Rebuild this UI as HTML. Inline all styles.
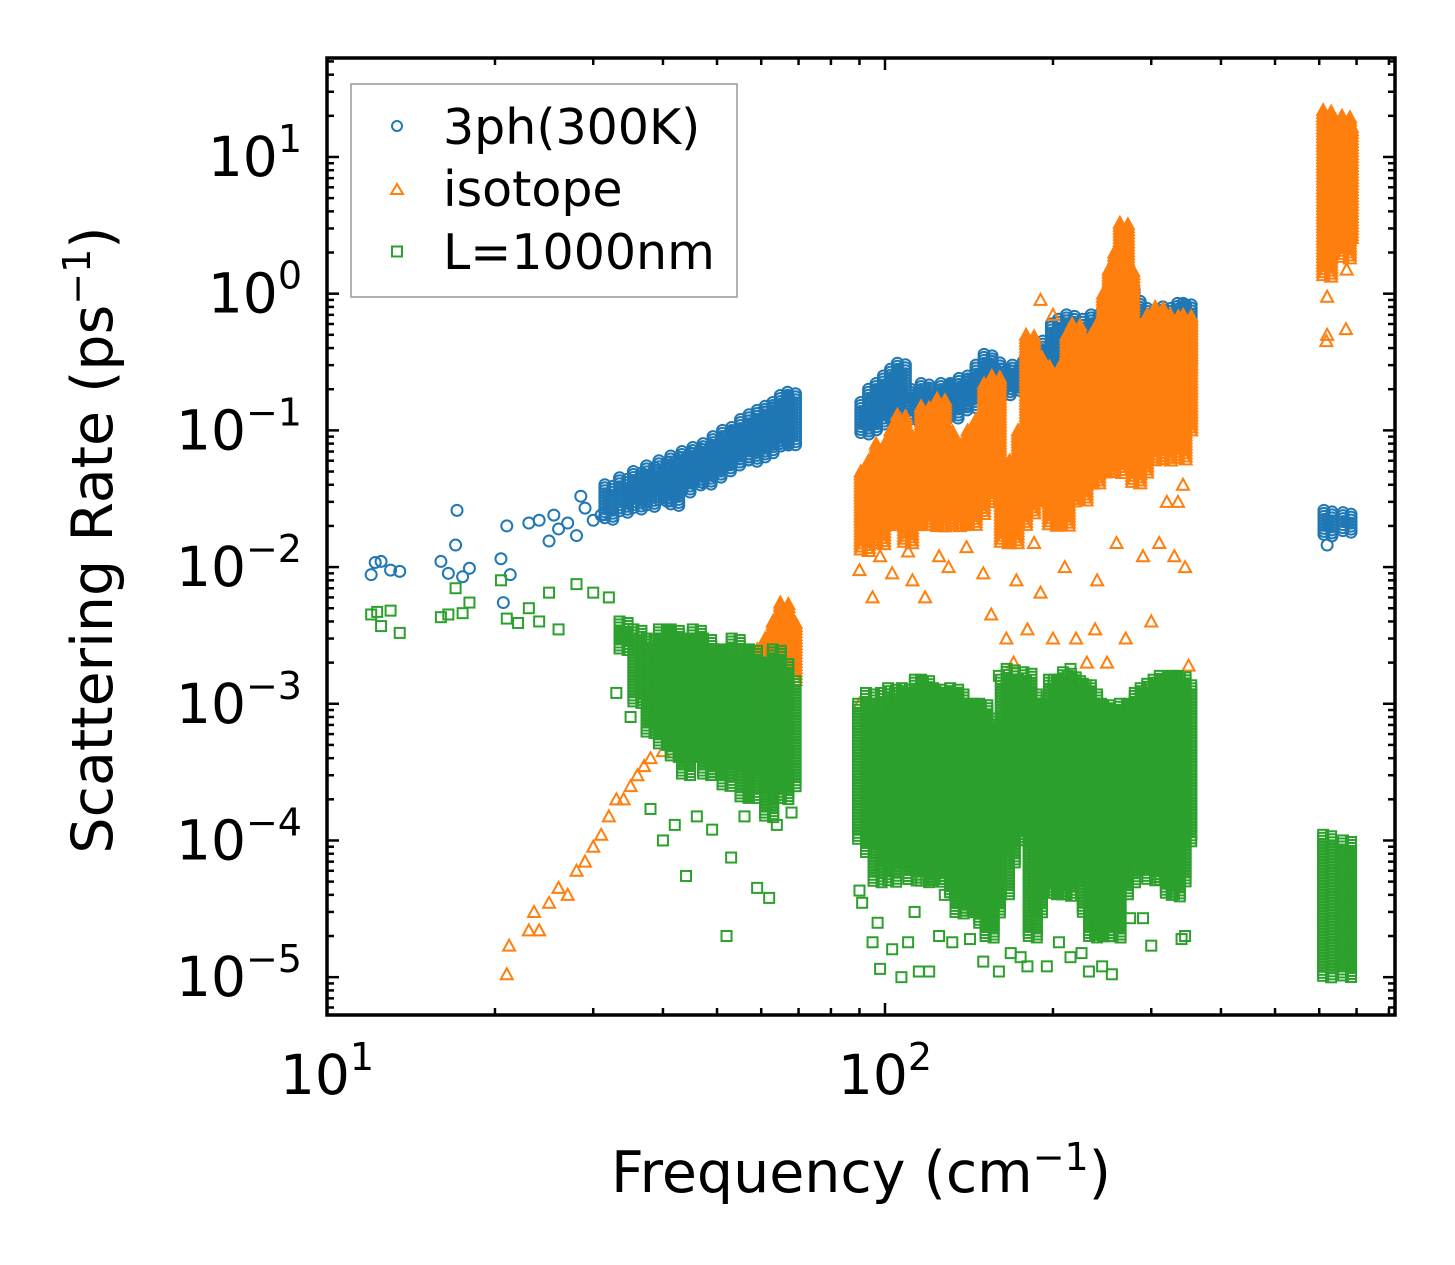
<!DOCTYPE html>
<html><head><meta charset="utf-8"><style>
body{margin:0;background:#fff}
svg{display:block;font-family:"DejaVu Sans","Liberation Sans",sans-serif}
</style></head><body>
<svg id="chart" width="1455" height="1265" viewBox="0 0 1455 1265">
<g id="marks"></g>
<g id="axes"></g>
<rect x="327" y="58" width="1068" height="957" fill="none" stroke="#000" stroke-width="3.5"/>
<g>
<rect x="351" y="84" width="386" height="213" fill="#fff" fill-opacity="0.8" stroke="#999" stroke-width="1.5"/>
<circle cx="397" cy="126" r="5" fill="none" stroke="#1f77b4" stroke-width="2"/>
<path d="M391,194 L397,184 L403,194 Z" fill="none" stroke="#ff7f0e" stroke-width="2"/>
<rect x="392" y="246.5" width="10" height="10" fill="none" stroke="#2ca02c" stroke-width="2"/>
<text x="443" y="144" font-size="49">3ph(300K)</text>
<text x="443" y="206" font-size="49">isotope</text>
<text x="443" y="269" font-size="49">L=1000nm</text>
</g>
<text x="861" y="1192" font-size="57" text-anchor="middle">Frequency (cm<tspan dy="-22" font-size="38">−1</tspan><tspan dy="22">)</tspan></text>
<text transform="translate(112,540) rotate(-90)" font-size="57" text-anchor="middle">Scattering Rate (ps<tspan dy="-22" font-size="38">−1</tspan><tspan dy="22">)</tspan></text>
</svg>
<script>
// ---- data ----
const xTickValues=[10,100];
const yTickExponents=[1,0,-1,-2,-3,-4,-5];
// isolated points [freq, rate]
const phPoints=[[12,0.0088],[12.2,0.0108],[12.5,0.011],[13,0.0095],[13.5,0.0093],[16,0.011],[16.5,0.009],[17,0.0145],[17.1,0.026],[17.5,0.0085],[18,0.0098],[20.5,0.0115],[21,0.02],[20.7,0.0055],[21.3,0.0088],[23,0.021],[24,0.022],[25,0.0155],[25.5,0.024],[26,0.019],[27,0.021],[28,0.017],[28.5,0.033],[29,0.027],[30,0.022],[31,0.024],[620,0.0145]];
const phBands=[[32,0.022,0.04],[34,0.025,0.045],[36,0.026,0.05],[38,0.028,0.055],[40,0.03,0.06],[42,0.028,0.065],[44,0.035,0.07],[46,0.04,0.075],[48,0.04,0.08],[50,0.045,0.09],[52,0.05,0.1],[54,0.055,0.105],[56,0.06,0.12],[58,0.06,0.13],[60,0.065,0.14],[62,0.07,0.15],[64,0.075,0.16],[66,0.08,0.18],[68,0.08,0.19],[92,0.095,0.16],[95,0.1,0.2],[98,0.11,0.22],[101,0.12,0.25],[104,0.13,0.28],[107,0.15,0.31],[113,0.12,0.2],[118,0.12,0.22],[123,0.12,0.2],[128,0.13,0.22],[133,0.12,0.22],[138,0.14,0.24],[143,0.15,0.25],[148,0.16,0.3],[153,0.18,0.36],[158,0.17,0.32],[165,0.18,0.28],[172,0.2,0.3],[180,0.2,0.32],[188,0.22,0.4],[195,0.25,0.45],[202,0.3,0.6],[208,0.3,0.65],[215,0.3,0.7],[222,0.25,0.6],[230,0.3,0.65],[238,0.3,0.7],[246,0.3,0.7],[255,0.35,0.8],[262,0.4,1.0],[268,0.45,1.2],[275,0.5,1.1],[282,0.4,0.9],[290,0.35,0.8],[300,0.25,0.7],[310,0.3,0.75],[320,0.3,0.8],[330,0.25,0.7],[340,0.25,0.85],[348,0.3,0.85],[622,0.017,0.026],[673,0.018,0.025]];
const isoPoints=[[21,1.05e-5],[21.2,1.7e-5],[23,2.2e-5],[23.5,3e-5],[24,2.2e-5],[25,3.5e-5],[26,4.5e-5],[27,4e-5],[28,6e-5],[29,7e-5],[30,9e-5],[31,1.1e-4],[32,1.5e-4],[33,2e-4],[34,2e-4],[35,2.5e-4],[36,3e-4],[37,3.5e-4],[38,4e-4],[40,4.5e-4],[42,5e-4],[44,6e-4],[46,6e-4],[48,7e-4],[50,8e-4],[52,1.2e-3],[54,1e-3],[55,2e-3],[90,9.5e-3],[90,1e-3],[95,6e-3],[98,1.2e-2],[103,9e-3],[110,1.3e-2],[112,8e-3],[118,6e-3],[125,1.2e-2],[130,1e-2],[140,1.4e-2],[150,9e-3],[155,4.5e-3],[165,3e-3],[170,2e-3],[172,8e-3],[180,3.5e-3],[185,1.5e-2],[190,6.5e-3],[200,3e-3],[210,1e-2],[220,3e-3],[230,2e-3],[238,3.5e-3],[240,8e-3],[250,2e-3],[260,1.5e-2],[270,3e-3],[290,1.2e-2],[300,4e-3],[310,1.5e-2],[320,3e-2],[330,1.2e-2],[335,3e-2],[342,4e-2],[350,1.9e-3],[345,1e-2],[190,0.9],[200,0.7],[130,0.1],[618,0.45],[620,0.5],[620,0.95],[670,0.55],[672,1.5]];
const isoBands=[[56,8e-4,1.5e-3],[58,9e-4,2e-3],[60,1e-3,2.5e-3],[62,1.2e-3,3e-3],[64,1.5e-3,4e-3],[66,1.5e-3,5.5e-3],[68,1.5e-3,4e-3],[92,0.013,0.05],[95,0.015,0.06],[98,0.015,0.08],[101,0.02,0.07],[104,0.02,0.1],[107,0.025,0.13],[110,0.015,0.06],[114,0.02,0.09],[118,0.02,0.15],[122,0.02,0.12],[126,0.02,0.17],[130,0.025,0.1],[134,0.02,0.08],[138,0.02,0.07],[143,0.02,0.1],[148,0.025,0.12],[153,0.03,0.22],[158,0.03,0.25],[164,0.015,0.06],[170,0.015,0.06],[176,0.02,0.1],[182,0.025,0.5],[188,0.03,0.35],[194,0.03,0.3],[200,0.02,0.2],[205,0.03,0.2],[210,0.02,0.3],[215,0.03,0.5],[220,0.04,0.6],[226,0.03,0.25],[232,0.04,0.3],[238,0.04,0.5],[244,0.05,0.6],[250,0.05,1.0],[256,0.06,1.5],[262,0.05,2.0],[268,0.08,3.3],[274,0.06,1.5],[282,0.04,0.5],[290,0.05,0.6],[300,0.06,0.7],[310,0.08,0.8],[320,0.06,0.6],[330,0.1,0.7],[340,0.06,0.5],[348,0.1,0.7],[620,1.3,22],[624,2,18],[670,1.8,20],[675,2.5,17]];
const bdPoints=[[12,4.5e-3],[12.3,4.7e-3],[12.5,3.7e-3],[13,4.8e-3],[13.5,3.3e-3],[16,4.3e-3],[16.5,4.5e-3],[17,7e-3],[17.5,4.6e-3],[18,5.5e-3],[20.5,8e-3],[21,4.2e-3],[22,3.9e-3],[23,5e-3],[24,4e-3],[25,6.5e-3],[26,3.5e-3],[28,7.5e-3],[30,6.5e-3],[32,6e-3],[33,1.2e-3],[35,8e-4],[38,1.7e-4],[40,1e-4],[42,1.3e-4],[44,5.5e-5],[46,1.5e-4],[49,1.2e-4],[53,7.5e-5],[52,2e-5],[56,1.5e-4],[59,4.5e-5],[62,3.8e-5],[64,1.3e-4],[68,1.6e-4],[90,4.3e-5],[91,3.5e-5],[95,1.8e-5],[97,2.5e-5],[98,1.15e-5],[103,1.6e-5],[107,1e-5],[110,1.8e-5],[113,3e-5],[115,1.1e-5],[120,1.1e-5],[125,2e-5],[128,4e-5],[132,1.8e-5],[142,1.9e-5],[150,1.3e-5],[160,1.1e-5],[168,1.5e-5],[175,1.4e-5],[180,1.2e-5],[195,1.2e-5],[205,1.8e-5],[215,1.4e-5],[225,1.5e-5],[232,1.1e-5],[245,1.2e-5],[255,1.05e-5],[275,2.7e-5],[290,2.7e-5],[300,1.7e-5],[340,1.9e-5],[345,2e-5],[215,1.8e-3],[160,1.6e-3]];
const bdBands=[[34,2.5e-3,4e-3],[36,1e-3,3.5e-3],[38,6e-4,3e-3],[40,5e-4,3.5e-3],[42,4e-4,3.5e-3],[44,3e-4,3e-3],[46,4e-4,3.5e-3],[48,3e-4,3e-3],[50,3e-4,2.5e-3],[52,2.5e-4,2.5e-3],[54,3e-4,3e-3],[56,2e-4,2.5e-3],[58,2e-4,2.5e-3],[60,2.5e-4,2e-3],[62,1.5e-4,2e-3],[64,2e-4,2.5e-3],[66,2e-4,2e-3],[68,2.5e-4,1.5e-3],[91,1e-4,1e-3],[94,8e-5,1.2e-3],[97,5e-5,1e-3],[100,6e-5,1.2e-3],[103,5e-5,1.3e-3],[106,7e-5,1.2e-3],[109,8e-5,1.3e-3],[112,5e-5,1.2e-3],[115,6e-5,1.5e-3],[118,5e-5,1.5e-3],[121,6e-5,1.3e-3],[124,5e-5,1.3e-3],[127,7e-5,1.2e-3],[130,5e-5,1.2e-3],[133,4e-5,1.3e-3],[136,3e-5,1.2e-3],[139,5e-5,1e-3],[142,3e-5,1e-3],[146,3e-5,1e-3],[150,2.5e-5,1e-3],[154,2e-5,8e-4],[158,3e-5,7e-4],[164,4e-5,1.5e-3],[168,7e-5,1.8e-3],[172,1e-4,1.5e-3],[176,1.5e-4,1.5e-3],[180,1e-4,1.7e-3],[184,2e-5,1.2e-3],[188,3e-5,1e-3],[200,4e-5,1.5e-3],[204,4e-5,1.5e-3],[208,4e-5,1.5e-3],[212,4e-5,1.7e-3],[216,5e-5,1.6e-3],[220,6e-5,1.5e-3],[225,5e-5,1.4e-3],[230,3e-5,1.4e-3],[236,2e-5,1.2e-3],[242,2e-5,1e-3],[248,2e-5,1e-3],[254,3e-5,9e-4],[260,2e-5,8e-4],[268,4e-5,1e-3],[276,5e-5,1e-3],[285,7e-5,1.2e-3],[292,6e-5,1.3e-3],[300,5e-5,1.4e-3],[308,6e-5,1.5e-3],[316,5e-5,1.6e-3],[324,4e-5,1.5e-3],[332,4e-5,1.6e-3],[340,5e-5,1.6e-3],[348,1e-4,1.4e-3],[620,1e-5,1.1e-4],[673,1e-5,1e-4]];

// ---- axes ----
const X0=327,X1=1395,Y0=58,Y1=1015;
const xDec=558, yTopLog=1.724, yDec=136.7;
function xs(v){return X0+xDec*(Math.log10(v)-1);}
function ys(v){return Y0+(yTopLog-Math.log10(v))*yDec;}
const NS='http://www.w3.org/2000/svg';
const marks=document.getElementById('marks'), axes=document.getElementById('axes');
function mk(tag,attrs,parent){const e=document.createElementNS(NS,tag);for(const k in attrs)e.setAttribute(k,attrs[k]);parent.appendChild(e);return e;}
function marker(kind,cx,cy){
  let e;
  if(kind==='o'){e=mk('circle',{cx:cx,cy:cy,r:5.5,fill:'none',stroke:'#1f77b4','stroke-width':2},marks);}
  else if(kind==='t'){e=mk('path',{d:`M${cx-6},${cy+5} L${cx},${cy-6} L${cx+6},${cy+5} Z`,fill:'none',stroke:'#ff7f0e','stroke-width':2},marks);}
  else {e=mk('rect',{x:cx-5,y:cy-5,width:10,height:10,fill:'none',stroke:'#2ca02c','stroke-width':2},marks);}
  
  
}
function drawSeries(kind,points,bands){
  bands.forEach(b=>{
    const x=xs(b[0]),ya=ys(b[2]),yb=ys(b[1]);
    for(let y=ya;y<=yb;y+=3){marker(kind,x-4,y);marker(kind,x+4,y+1.5);}
  });
  points.forEach(p=>marker(kind,xs(p[0]),ys(p[1])));
}
drawSeries('o',phPoints,phBands);
drawSeries('t',isoPoints,isoBands);
drawSeries('s',bdPoints,bdBands);

// ticks
function tick(x1,y1,x2,y2,name){const l=mk('line',{x1:x1,y1:y1,x2:x2,y2:y2,stroke:'#000','stroke-width':2.5},axes);

}
[10,100].forEach(d=>{for(let m=1;m<10;m++){const v=d*m;if(v>820)continue;const x=xs(v);const L=m===1?12:7;
tick(x,Y1,x,Y1-L,'x-tick');tick(x,Y0,x,Y0+L,'x-tick-top');}});
for(let e=-6;e<=1;e++){for(let m=1;m<10;m++){const v=m*Math.pow(10,e);const y=ys(v);if(y<Y0||y>Y1)continue;const L=m===1?12:7;
tick(X0,y,X0+L,y,'y-tick');tick(X1,y,X1-L,y,'y-tick-right');}}
xTickValues.forEach(v=>{const t=mk('text',{x:xs(v),y:1094,'font-size':55,'text-anchor':'middle'},axes);


t.innerHTML='10<tspan dy="-24" font-size="38">'+Math.round(Math.log10(v))+'</tspan>';});
yTickExponents.forEach(e=>{const t=mk('text',{x:302,y:ys(Math.pow(10,e))+19,'font-size':55,'text-anchor':'end'},axes);


t.innerHTML='10<tspan dy="-24" font-size="38">'+(e<0?'−'+(-e):e)+'</tspan>';});
</script>
</body></html>
